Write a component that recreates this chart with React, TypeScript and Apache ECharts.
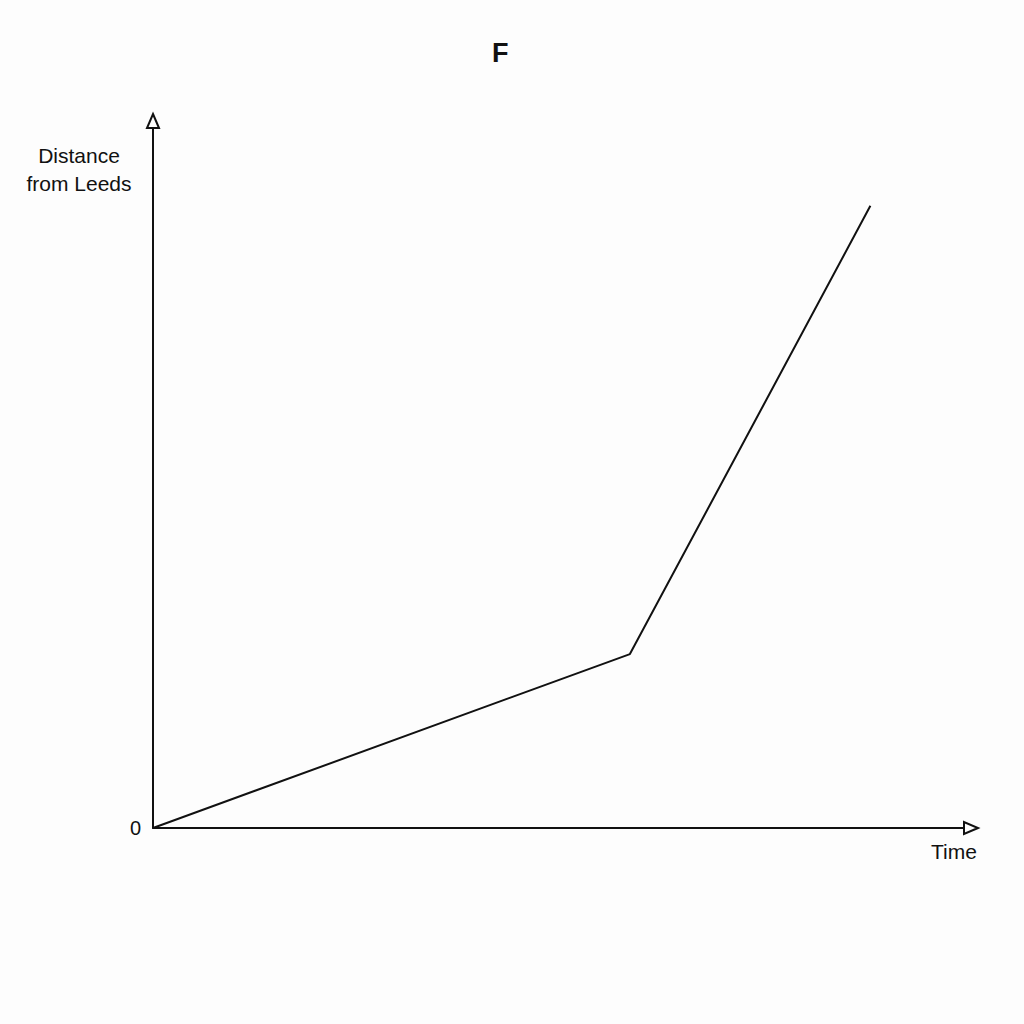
import { useEffect, useRef } from "react";
import * as echarts from "echarts";

const titleText = "F";
const xName = "Time";
const yName = "Distance\nfrom Leeds";
const timeValues = [0, 5.83, 8.77];
const distanceValues = [0, 2.46, 8.8];

export default function App() {
    const chartRef = useRef<HTMLDivElement | null>(null);

    useEffect(() => {
        if (!chartRef.current) return;
        const chart = echarts.init(chartRef.current, null, { renderer: "svg" });

        const option: echarts.EChartsOption = {
            animation: false,
            backgroundColor: "#fdfdfd",
            textStyle: { fontFamily: "Liberation Sans, Arial, sans-serif" },
            title: {
                text: titleText,
                left: 487,
                top: 34,
                textStyle: { color: "#111", fontSize: 27, fontWeight: "bold" },
            },
            grid: { left: 153, right: 53, top: 121, bottom: 196 },
            xAxis: {
                type: "value",
                min: 0,
                max: 10,
                interval: 10,
                axisLine: {
                    show: true,
                    onZero: false,
                    symbol: ["none", "emptyTriangle"],
                    symbolSize: [12, 14],
                    lineStyle: { color: "#111", width: 2 },
                },
                axisTick: { show: false },
                axisLabel: { show: false },
                splitLine: { show: false },
            },
            yAxis: {
                type: "value",
                min: 0,
                max: 10,
                interval: 10,
                axisLine: {
                    show: true,
                    onZero: false,
                    symbol: ["none", "emptyTriangle"],
                    symbolSize: [12, 14],
                    lineStyle: { color: "#111", width: 2 },
                },
                axisTick: { show: false },
                axisLabel: {
                    margin: 12,
                    color: "#111",
                    fontSize: 20,
                    formatter: (v: number) => (v === 0 ? "0" : ""),
                },
                splitLine: { show: false },
            },
            graphic: [
                {
                    type: "text",
                    x: 79,
                    y: 141,
                    style: {
                        text: yName,
                        fill: "#111",
                        font: "21px Liberation Sans, Arial, sans-serif",
                        align: "center",
                        lineHeight: 28,
                    },
                },
                {
                    type: "text",
                    x: 931,
                    y: 841,
                    style: {
                        text: xName,
                        fill: "#111",
                        font: "21px Liberation Sans, Arial, sans-serif",
                    },
                },
            ],
            series: [
                {
                    type: "line",
                    data: timeValues.map((t, i) => [t, distanceValues[i]]),
                    symbol: "none",
                    lineStyle: { color: "#111", width: 2 },
                },
            ],
        };

        chart.setOption(option);
        return () => chart.dispose();
    }, []);

    return (
        <div
            ref={chartRef}
            style={{ position: "fixed", left: 0, top: 0, width: "1024px", height: "1024px" }}
        />
    );
}
